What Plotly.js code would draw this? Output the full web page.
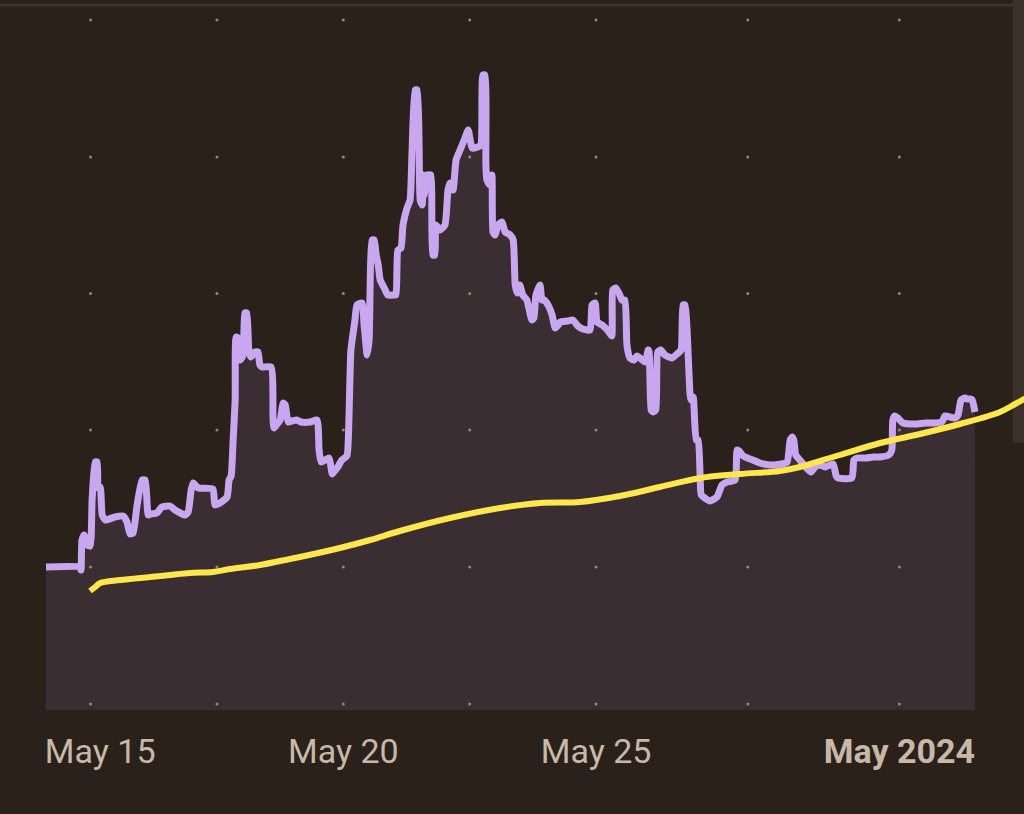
<!DOCTYPE html>
<html>
<head>
<meta charset="utf-8">
<script src="https://cdn.plot.ly/plotly-3.0.1.min.js"></script>
<style>
html, body { margin: 0; padding: 0; background: #2a221a; }
#graph_area { width: 1024px; height: 814px; }
/* rounded corners on the lines, like the original */
#graph_area .js-line { stroke-linejoin: round !important; stroke-linecap: butt; stroke-miterlimit: 10 !important; }
</style>
</head>
<body>
<div id="graph_area"></div>
<script>
// day of May 2024 (fractional) and value
const purpleDays = [14.118,14.79,14.81,14.83,14.87,14.93,14.99,15.03,15.09,15.13,15.15,15.19,15.23,15.29,15.48,15.64,15.72,15.78,15.84,15.92,16.02,16.08,16.14,16.18,16.31,16.41,16.57,16.67,16.87,16.93,16.99,17.03,17.13,17.42,17.46,17.56,17.70,17.74,17.78,17.82,17.86,17.88,17.92,17.96,18.02,18.05,18.09,18.13,18.17,18.25,18.31,18.35,18.39,18.57,18.61,18.63,18.69,18.75,18.81,18.85,18.91,18.98,19.08,19.16,19.34,19.48,19.52,19.56,19.64,19.72,19.78,19.81,19.89,19.97,20.07,20.11,20.15,20.23,20.27,20.37,20.41,20.43,20.47,20.51,20.57,20.61,20.65,20.69,20.73,20.81,20.88,21.00,21.04,21.06,21.08,21.14,21.18,21.26,21.32,21.36,21.42,21.46,21.50,21.52,21.56,21.58,21.60,21.66,21.73,21.75,21.77,21.81,21.83,21.91,22.01,22.07,22.11,22.17,22.23,22.31,22.39,22.47,22.51,22.55,22.66,22.72,22.76,22.80,22.82,22.84,22.90,22.94,22.96,23.00,23.06,23.14,23.20,23.30,23.36,23.40,23.44,23.49,23.55,23.63,23.73,23.77,23.81,23.89,23.93,23.97,24.05,24.13,24.19,24.25,24.29,24.44,24.54,24.64,24.74,24.88,24.92,24.98,25.02,25.12,25.24,25.31,25.33,25.39,25.47,25.51,25.57,25.61,25.67,25.75,25.81,25.97,26.03,26.05,26.09,26.13,26.18,26.22,26.28,26.36,26.50,26.60,26.68,26.72,26.76,26.80,26.86,26.88,26.92,26.98,27.02,27.06,27.08,27.15,27.25,27.39,27.49,27.59,27.75,27.79,27.83,27.91,28.10,28.24,28.44,28.68,28.78,28.84,28.88,28.91,28.95,29.03,29.13,29.25,29.33,29.43,29.53,29.69,29.75,29.79,30.06,30.10,30.16,30.34,30.48,30.62,30.79,30.85,30.87,30.91,30.97,31.07,31.31,31.51,31.70,31.84,31.90,32.00,32.10,32.16,32.22,32.30,32.34,32.40,32.44,32.495];
const purpleValues = [143,143,140,170,175,165,164,210,248,248,222,223,195,190,193,194,188,176,177,205,230,230,195,196,197,203,204,200,195,198,220,227,222,221,205,207,213,230,234,270,310,373,372,350,355,397,397,360,353,358,358,345,343,343,290,282,286,290,307,305,288,289,290,288,288,290,260,248,250,252,236,238,243,250,254,290,360,390,405,407,385,375,355,370,470,470,455,445,430,422,415,415,415,440,460,462,485,502,510,560,620,620,560,510,505,535,515,535,535,500,455,455,485,480,485,520,527,520,550,560,570,580,570,562,563,565,635,635,545,530,525,535,478,475,485,488,478,475,470,425,417,425,415,410,390,392,415,425,410,410,405,395,382,385,388,389,390,384,381,380,405,407,388,385,379,374,420,422,415,410,410,365,352,350,354,348,360,358,300,298,300,358,360,355,352,356,360,405,405,380,315,310,313,270,270,230,215,212,209,213,225,228,230,260,259,254,250,247,245,246,248,270,273,270,255,250,244,238,243,245,243,246,234,232,232,250,252,252,253,253,255,260,290,294,292,287,286,287,287,288,294,293,292,295,310,312,311,311,310,298];

const yellowDays = [14.99,15.09,15.19,15.58,16.18,16.57,16.97,17.42,17.76,18.35,18.75,19.14,19.93,20.53,21.12,22.11,23.10,23.89,24.68,25.47,26.26,27.06,27.85,28.64,29.03,29.82,30.62,31.41,32.20,32.99,33.29,33.58];
const yellowValues = [119,123,127,130,133,135,137,138,141,145,149,153,162,170,179,192,202,207,208,214,223,232,236,239,243,255,267,276,286,298,306,314];

const gridDays = [15,17.5,20,22.5,25,28,31];
const gridValues = [6,143,280,416.5,553,690];

const tickDays = [15.19,20,25,31];
const tickLabels = ["May 15","May 20","May 25","<b>May 2024</b>"];

function toDate(day) {
    return new Date(Date.UTC(2024,4,0) + day*864e5).toISOString();
}

const dotsX = [];
const dotsY = [];
gridDays.forEach(d => gridValues.forEach(v => { dotsX.push(toDate(d)); dotsY.push(v); }));

const purpleX = purpleDays.map(toDate);
const yellowX = yellowDays.map(toDate);

const traces = [
    { x: purpleX, y: purpleValues, type: "scatter", mode: "none", fill: "tozeroy", fillcolor: "#3b2e33", hoverinfo: "skip" },
    { x: dotsX, y: dotsY, type: "scatter", mode: "markers", marker: { size: 3, color: "#8f897c" }, hoverinfo: "skip" },
    { x: purpleX, y: purpleValues, type: "scatter", mode: "lines", line: { color: "#c9a6f0", width: 7, shape: "spline", smoothing: 0.5 }, hoverinfo: "skip" },
    { x: yellowX, y: yellowValues, type: "scatter", mode: "lines", line: { color: "#fde74c", width: 6, shape: "spline" }, hoverinfo: "skip" },
];

const layout = {
    width: 1024,
    height: 814,
    margin: { l: 0, r: 0, t: 0, b: 104 },
    paper_bgcolor: "#2a221a",
    plot_bgcolor: "#2a221a",
    showlegend: false,
    xaxis: {
        type: "date",
        range: [toDate(13.208), toDate(33.465)],
        tickmode: "array",
        tickvals: tickDays.map(toDate),
        ticktext: tickLabels,
        ticks: "",
        showgrid: false,
        zeroline: false,
        showline: false,
        tickangle: 0,
        tickfont: { family: "Roboto", size: 34, color: "#c8b8a8" },
        ticklabelstandoff: 18,
    },
    yaxis: {
        range: [0, 710],
        showgrid: false,
        zeroline: false,
        showline: false,
        showticklabels: false,
    },
    // faint top rule and the scrollbar strip at the right edge
    shapes: [
        { type: "line", xref: "paper", yref: "y", x0: 0, x1: 1, y0: 705, y1: 705, line: { color: "#3b3228", width: 3 }, layer: "below" },
        { type: "rect", xref: "x", yref: "y", x0: toDate(33.24), x1: toDate(33.465), y0: 267, y1: 710, fillcolor: "#3a3228", line: { width: 0 }, layer: "below" },
    ],
};

Plotly.newPlot("graph_area", traces, layout, { displayModeBar: false, staticPlot: true });
</script>
</body>
</html>
